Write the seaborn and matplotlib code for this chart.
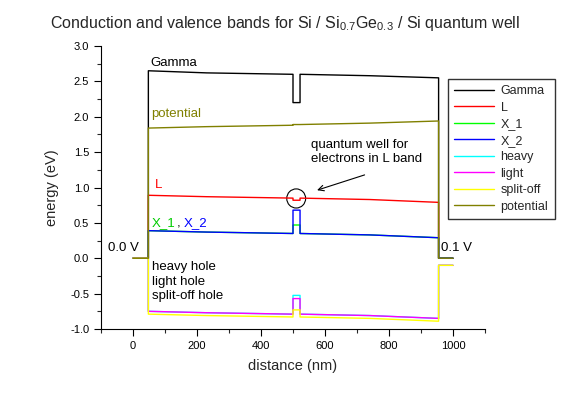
import numpy as np
import pandas as pd
import matplotlib
matplotlib.use('Agg')
import matplotlib.pyplot as plt
import seaborn as sns
from matplotlib.patches import Ellipse

# band profile along the device (nm / eV)
x_nm = [0, 48, 48, 230, 500, 500, 522, 522, 740, 955, 955, 1000]
gamma = [0, 0, 2.65, 2.62, 2.60, 2.20, 2.20, 2.60, 2.58, 2.55, 0, 0]
band_L = [0, 0, 0.89, 0.87, 0.85, 0.82, 0.82, 0.85, 0.83, 0.79, 0, 0]
x_1 = [0, 0, 0.39, 0.37, 0.35, 0.47, 0.47, 0.35, 0.33, 0.29, 0, 0]
x_2 = [0, 0, 0.39, 0.37, 0.35, 0.68, 0.68, 0.35, 0.33, 0.29, 0, 0]
heavy = [0, 0, -0.75, -0.77, -0.79, -0.525, -0.525, -0.79, -0.81, -0.85, -0.1, -0.1]
light = [0, 0, -0.75, -0.77, -0.79, -0.57, -0.57, -0.79, -0.81, -0.85, -0.1, -0.1]
split_off = [0, 0, -0.79, -0.81, -0.83, -0.73, -0.73, -0.83, -0.85, -0.89, -0.1, -0.1]
potential = [0, 0, 1.84, 1.86, 1.88, 1.89, 1.89, 1.89, 1.91, 1.94, 0, 0]

series = [('Gamma', gamma, 'black'), ('L', band_L, 'red'), ('X_1', x_1, '#00ff00'),
          ('X_2', x_2, 'blue'), ('heavy', heavy, 'cyan'), ('light', light, 'magenta'),
          ('split-off', split_off, 'yellow'), ('potential', potential, '#808000')]

sns.set_style('ticks')
plt.rcParams['font.family'] = ['Liberation Sans', 'DejaVu Sans']
plt.rcParams['mathtext.fontset'] = 'custom'
plt.rcParams['mathtext.rm'] = 'Liberation Sans'

fig = plt.figure(figsize=(5.64, 3.96), dpi=100)
ax = fig.add_axes([101 / 564, 1 - 329 / 396, 384 / 564, 283 / 396])

for name, vals, col in series:
    df = pd.DataFrame({'x': x_nm, 'y': vals})
    sns.lineplot(data=df, x='x', y='y', sort=False, estimator=None, color=col,
                 lw=1, label=name, ax=ax, legend=False)

ax.set_xlim(-100, 1100)
ax.set_ylim(-1.0, 3.0)
ax.set_xticks(np.arange(0, 1001, 200))
ax.set_xticks(np.arange(-100, 1101, 100), minor=True)
ax.set_yticks(np.arange(-1.0, 3.01, 0.5))
ax.set_yticks(np.arange(-1.0, 3.01, 0.25), minor=True)
ax.yaxis.set_major_formatter(matplotlib.ticker.FormatStrFormatter('%.1f'))
ax.tick_params(which='major', direction='out', length=5, width=0.8, labelsize=8, colors='black')
ax.tick_params(which='minor', direction='out', length=3, width=0.8)
sns.despine(ax=ax)
for s in ['left', 'bottom']:
    ax.spines[s].set_color('black')
    ax.spines[s].set_linewidth(0.8)
ax.set_xlabel('distance (nm)', fontsize=10.5, labelpad=6)
ax.set_ylabel('energy (eV)', fontsize=10.5, labelpad=8)

fig.suptitle(r'Conduction and valence bands for Si / Si$_{0.7}$Ge$_{0.3}$ / Si quantum well',
             x=0.505, y=0.965, fontsize=11.5)

# in-plot labels
fs = 9.5
ax.text(53, 2.72, 'Gamma', color='black', fontsize=fs)
ax.text(57, 1.99, 'potential', color='#808000', fontsize=fs)
ax.text(68, 1.0, 'L', color='red', fontsize=fs)
ax.text(57, 0.45, 'X_1', color='#00cc00', fontsize=fs)
ax.text(136, 0.45, ',', color='black', fontsize=fs)
ax.text(160, 0.45, 'X_2', color='blue', fontsize=fs)
ax.text(-77, 0.1, '0.0 V', color='black', fontsize=fs)
ax.text(963, 0.1, '0.1 V', color='black', fontsize=fs)
ax.text(60, -0.04, 'heavy hole\nlight hole\nsplit-off hole', color='black', fontsize=fs,
        va='top', linespacing=1.3)
ax.text(555, 1.69, 'quantum well for\nelectrons in L band', color='black', fontsize=fs,
        va='top', linespacing=1.3)
ax.add_patch(Ellipse((510, 0.845), 59, 0.27, fill=False, color='black', lw=0.8))
ax.annotate('', xy=(567, 0.95), xytext=(732, 1.19),
            arrowprops=dict(arrowstyle='->', color='black', lw=0.8))

leg = fig.legend(loc='upper left', bbox_to_anchor=(448 / 564, 1 - 79 / 396), fontsize=9,
                 frameon=True, fancybox=False, edgecolor='black', handlelength=3.2,
                 borderpad=0.5, labelspacing=0.36, handletextpad=0.5, borderaxespad=0)
leg.get_frame().set_linewidth(1.0)

fig.savefig('out.png', dpi=100)
